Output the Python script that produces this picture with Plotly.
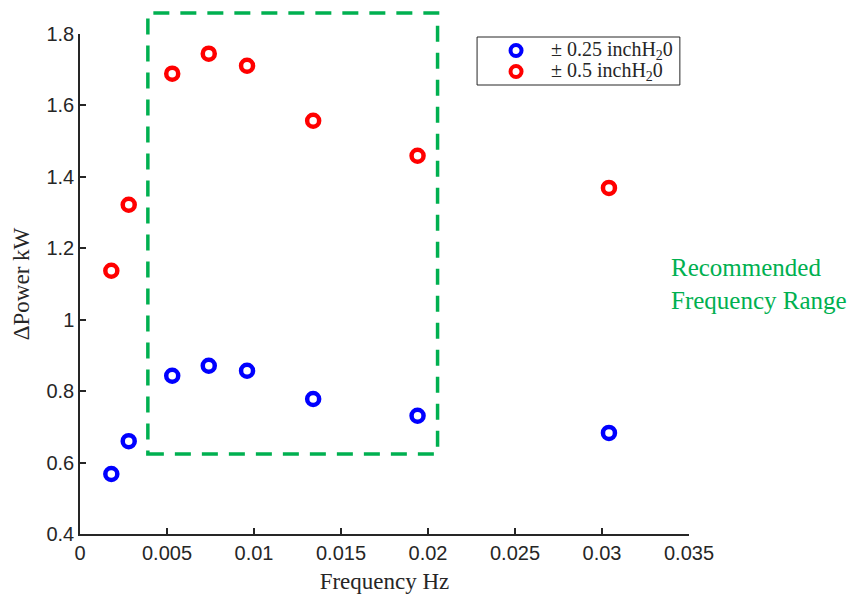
import plotly.graph_objects as go

freq_hz = [0.0018, 0.0028, 0.0053, 0.0074, 0.0096, 0.0134, 0.0194, 0.0304]
dpower_025 = [0.568, 0.660, 0.843, 0.871, 0.857, 0.778, 0.731, 0.683]
dpower_05 = [1.137, 1.322, 1.689, 1.745, 1.711, 1.557, 1.459, 1.369]

series_names = ["± 0.25 inchH<sub>2</sub>0", "± 0.5 inchH<sub>2</sub>0"]
series_colors = ["rgb(0,0,255)", "rgb(255,0,0)"]

x_ticks = [0, 0.005, 0.01, 0.015, 0.02, 0.025, 0.03, 0.035]
x_ticktext = ["0", "0.005", "0.01", "0.015", "0.02", "0.025", "0.03", "0.035"]
y_ticks = [0.4, 0.6, 0.8, 1.0, 1.2, 1.4, 1.6, 1.8]
y_ticktext = ["0.4", "0.6", "0.8", "1", "1.2", "1.4", "1.6", "1.8"]

x_range = [0, 0.035]
y_range = [0.4, 1.8]

# recommended range box (data units)
rect_x = [0.0039, 0.02055]
rect_y = [0.624, 1.859]

green = "rgb(0,176,80)"
axis_col = "#262626"

fig = go.Figure()
for vals, name, col in zip([dpower_025, dpower_05], series_names, series_colors):
    fig.add_trace(go.Scatter(
        x=freq_hz, y=vals, mode="markers", name=name, showlegend=False,
        marker=dict(symbol="circle-open", size=12, color=col, line=dict(width=4.5, color=col)),
        cliponaxis=False,
    ))

def px(v):
    return (v - x_range[0]) / (x_range[1] - x_range[0])

def py(v):
    return (v - y_range[0]) / (y_range[1] - y_range[0])

fig.add_shape(type="rect", xref="paper", yref="paper",
              x0=px(rect_x[0]), x1=px(rect_x[1]), y0=py(rect_y[0]), y1=py(rect_y[1]),
              line=dict(color=green, width=3.5, dash="16px,11px"))

# custom legend (paper coordinates of the plot area)
leg_box = dict(x0=0.652, x1=0.985, y0=0.898, y1=0.994)
leg_rows_y = [0.967, 0.925]
leg_marker_x = 0.716
leg_text_x = 0.770
fig.add_shape(type="rect", xref="paper", yref="paper", **leg_box,
              line=dict(color=axis_col, width=1), fillcolor="white", layer="above")
for name, col, yy in zip(series_names, series_colors, leg_rows_y):
    fig.add_shape(type="circle", xref="paper", yref="paper", xsizemode="pixel", ysizemode="pixel",
                  xanchor=leg_marker_x, yanchor=yy, x0=-5.5, x1=5.5, y0=-5.5, y1=5.5,
                  line=dict(color=col, width=4), layer="above")
    fig.add_annotation(xref="paper", yref="paper", x=leg_text_x, y=yy, xanchor="left", yanchor="middle",
                       showarrow=False, text=name,
                       font=dict(family="Liberation Serif", size=20, color=axis_col))

fig.add_annotation(xref="paper", yref="paper", x=0.967, y=0.5, xanchor="left", yanchor="middle",
                   align="left", showarrow=False,
                   text="Recommended<br>Frequency Range",
                   font=dict(family="Liberation Serif", size=25, color=green))

# page body has an 8px margin, so the figure is 8px smaller on each axis
fig.update_layout(
    width=848, height=586,
    margin=dict(l=72, r=167, t=26, b=60),
    plot_bgcolor="white", paper_bgcolor="white",
    showlegend=False,
    xaxis=dict(range=x_range, tickvals=x_ticks, ticktext=x_ticktext, automargin=False,
               showgrid=False, zeroline=False, showline=True, linecolor=axis_col, linewidth=1.5,
               ticks="inside", ticklen=6, tickwidth=1.5, tickcolor=axis_col,
               tickfont=dict(family="Liberation Sans", size=20, color=axis_col),
               title=dict(text="Frequency Hz", font=dict(family="Liberation Serif", size=23, color=axis_col), standoff=11)),
    yaxis=dict(range=y_range, tickvals=y_ticks, ticktext=y_ticktext, automargin=False,
               showgrid=False, zeroline=False, showline=True, linecolor=axis_col, linewidth=1.5,
               ticks="inside", ticklen=6, tickwidth=1.5, tickcolor=axis_col,
               tickfont=dict(family="Liberation Sans", size=20, color=axis_col),
               title=dict(text="ΔPower kW", font=dict(family="Liberation Serif", size=23, color=axis_col), standoff=10)),
)

fig.write_html("out.html")
